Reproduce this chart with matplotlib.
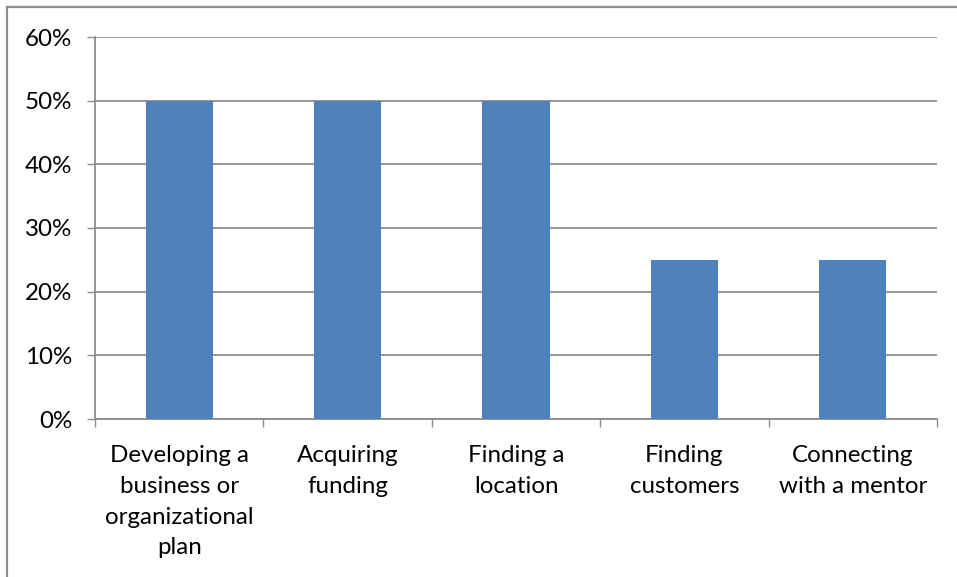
import matplotlib
matplotlib.use("Agg")
import matplotlib.pyplot as plt
from matplotlib.lines import Line2D

categories = [
    "Developing a\nbusiness or\norganizational\nplan",
    "Acquiring\nfunding",
    "Finding a\nlocation",
    "Finding\ncustomers",
    "Connecting\nwith a mentor",
]
values = [0.50, 0.50, 0.50, 0.25, 0.25]
y_ticks = [0.0, 0.1, 0.2, 0.3, 0.4, 0.5, 0.6]
y_tick_labels = ["0%", "10%", "20%", "30%", "40%", "50%", "60%"]

plt.rcParams["font.family"] = ["Lato", "DejaVu Sans"]

W, H = 957, 577
fig = plt.figure(figsize=(W / 100, H / 100), dpi=100)
fig.patch.set_facecolor("white")

# Chart area frame (left and top edges visible)
frame_color = "#8c8c8c"
fig.add_artist(Line2D([7 / W, 7 / W], [0, 1 - 7 / H], transform=fig.transFigure,
                      color=frame_color, lw=1.6))
fig.add_artist(Line2D([7 / W, 1], [1 - 7 / H, 1 - 7 / H], transform=fig.transFigure,
                      color=frame_color, lw=1.6))

left, right = 95 / W, 937 / W
bottom, top = 1 - 419 / H, 1 - 37 / H
ax = fig.add_axes([left, bottom, right - left, top - bottom])

grid_color = "#8c8c8c"
x = list(range(len(categories)))
ax.bar(x, values, width=0.4, color="#4F81BD", zorder=3)

ax.set_xlim(-0.5, len(categories) - 0.5)
ax.set_ylim(0, 0.6)
ax.set_yticks(y_ticks)
ax.set_yticklabels(y_tick_labels)
ax.yaxis.grid(True, color=grid_color, lw=1.3, zorder=0)

ax.set_xticks([i - 0.5 for i in range(len(categories) + 1)], minor=False)
ax.set_xticklabels([])
ax.set_xticks(x, minor=True)
ax.set_xticklabels(categories, minor=True, fontsize=17.4, linespacing=1.57,
                   va="top")
ax.tick_params(axis="x", which="minor", length=0, pad=19)
ax.tick_params(axis="x", which="major", length=6, width=1.0, color=grid_color,
               direction="out")
ax.tick_params(axis="y", length=6, width=1.0, color=grid_color, pad=10.5,
               labelsize=17.4)

for side in ["top", "right"]:
    ax.spines[side].set_visible(False)
for side in ["left", "bottom"]:
    ax.spines[side].set_color(grid_color)
    ax.spines[side].set_linewidth(1.3)

fig.savefig("out.png", dpi=100, facecolor="white")
